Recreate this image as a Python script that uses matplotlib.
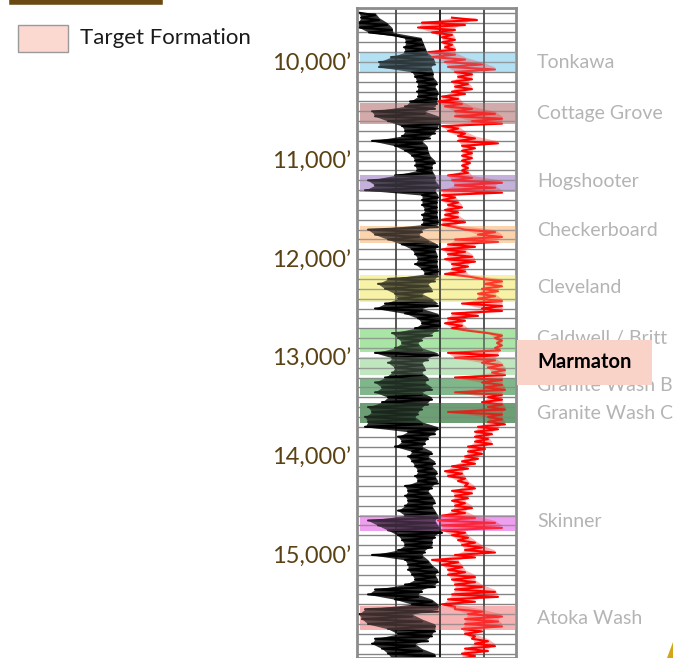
import numpy as np
import matplotlib.pyplot as plt
import matplotlib.transforms as mtransforms
from matplotlib.patches import Rectangle, Polygon
from matplotlib.lines import Line2D

plt.rcParams['font.family'] = ['Lato', 'DejaVu Sans']

# log samples every 50 ft; curve values in track units (0 = left edge, 159 = right edge)
depth = np.arange(9450, 16051, 50)
nan = np.nan

gr_lo = [nan, 2, 4, 1, 2, 12, 47, 49, 47, 48,
         34, 22, 22, 55, 58, 60, 61, 60, 61, 53,
         48, 15, 18, 31, 45, 48, 45, 15, 38, 48,
         55, 58, 58, 60, 38, 11, 18, 8, 65, 65,
         65, 68, 65, 66, 65, 11, 18, 31, 45, 55,
         58, 61, 58, 65, 68, 31, 21, 28, 38, 41,
         28, 18, 48, 61, 65, 58, 35, 41, 45, 38,
         18, 35, 31, 38, 35, 28, 18, 25, 18, 31,
         25, 11, 15, 8, 11, 8, 51, 41, 45, 38,
         55, 51, 55, 58, 61, 58, 61, 48, 51, 48,
         51, 48, 41, 48, 11, 21, 31, 41, 45, 48,
         41, 15, 48, 51, 51, 55, 58, 48, 18, 11,
         38, 55, 8, 2, 5, 11, 31, 41, 18, 15,
         25, 31, 35]
gr_hi = [nan, 18, 22, 30, 35, 36, 64, 66, 68, 70,
         76, 78, 74, 76, 76, 80, 78, 81, 80, 80,
         78, 68, 82, 82, 81, 78, 73, 65, 70, 71,
         73, 78, 75, 75, 78, 78, 82, 78, 81, 80,
         80, 80, 80, 81, 81, 65, 62, 71, 81, 78,
         80, 80, 80, 81, 81, 78, 71, 75, 65, 75,
         81, 65, 81, 82, 83, 81, 75, 65, 61, 65,
         81, 71, 65, 68, 65, 71, 68, 75, 65, 75,
         71, 65, 61, 58, 65, 81, 78, 71, 68, 65,
         75, 71, 78, 75, 80, 78, 81, 75, 71, 75,
         78, 75, 78, 81, 78, 81, 85, 78, 75, 75,
         68, 65, 71, 75, 81, 78, 81, 78, 65, 61,
         75, 81, 81, 55, 65, 78, 78, 75, 71, 58,
         65, 78, 75]
res_lo = [nan, nan, 95, 65, 61, 75, 85, 85, 88, 71,
          75, 88, 91, 98, 101, 95, 98, 95, 85, 81,
          88, 98, 98, 115, 85, 91, 101, 101, 105, 105,
          105, 105, 105, 105, 91, 95, 98, 85, 85, 85,
          91, 88, 88, 85, 85, 108, 121, 98, 91, 85,
          91, 88, 95, 95, 88, 125, 128, 125, 121, 121,
          105, 125, 95, 91, 88, 95, 131, 138, 140, 138,
          91, 98, 125, 131, 135, 98, 125, 128, 98, 131,
          125, 131, 91, 131, 131, 121, 118, 118, 118, 111,
          111, 108, 105, 95, 88, 91, 101, 108, 95, 98,
          95, 98, 95, 85, 81, 85, 85, 95, 101, 105,
          108, 98, 75, 85, 91, 91, 95, 98, 98, 95,
          91, 85, 98, 111, 108, 108, 105, 108, 115, 118,
          108, 105, 105]
res_hi = [nan, nan, 120, 108, 98, 95, 98, 95, 98, 98,
          108, 125, 138, 115, 115, 111, 115, 108, 101, 105,
          115, 138, 145, 145, 101, 108, 118, 141, 118, 115,
          115, 113, 111, 111, 115, 145, 138, 145, 98, 101,
          105, 101, 101, 108, 98, 138, 145, 141, 118, 108,
          115, 118, 111, 108, 111, 145, 145, 141, 138, 145,
          145, 145, 121, 108, 105, 111, 145, 145, 145, 143,
          141, 138, 145, 148, 148, 145, 145, 148, 145, 145,
          145, 148, 145, 145, 148, 141, 135, 131, 135, 128,
          125, 121, 118, 111, 105, 108, 111, 118, 115, 111,
          108, 115, 108, 118, 138, 145, 108, 111, 118, 125,
          138, 118, 101, 105, 108, 118, 118, 125, 138, 141,
          118, 98, 125, 145, 141, 145, 125, 118, 131, 138,
          131, 118, 118]

formations = ['Tonkawa', 'Cottage Grove', 'Hogshooter', 'Checkerboard', 'Cleveland',
              'Caldwell / Britt', 'Marmaton', 'Granite Wash B', 'Granite Wash C',
              'Skinner', 'Atoka Wash']
tops = [9900, 10420, 11150, 11660, 12160, 12710, 12990, 13205, 13455, 14595, 15515]
bases = [10100, 10630, 11320, 11840, 12430, 12940, 13175, 13380, 13660, 14760, 15760]
label_depths = [10000, 10527, 11207, 11704, 12282, 12809, 13043, 13286, 13560, 14665, 15649]
target = 'Marmaton'

depth_ticks = [10000, 11000, 12000, 13000, 14000, 15000]
depth_labels = ['10,000’', '11,000’', '12,000’', '13,000’', '14,000’', '15,000’']

band_colors = ['#b3e0f2', '#d2aaaa', '#c4b0da', '#fbd3ad', '#f7f2a6', '#a9e6a6',
               '#c0e6c0', '#80b78a', '#6c9f74', '#ef9ff0', '#f6b2b2']


def zigzag(lo, hi):
    x = np.column_stack([lo, hi]).ravel()
    y = np.column_stack([depth, depth + 25]).ravel()
    return x, y


fig = plt.figure(figsize=(6.73, 6.58), dpi=100)
ax = fig.add_axes([357 / 673, 0, 159 / 673, 650 / 658])
ax.set_xlim(0, 159)
ax.set_ylim(16045, 9452)

# formation bands under the curves
for top, base, c in zip(tops, bases, band_colors):
    ax.axhspan(top, base, xmin=0.02, color=c, lw=0, zorder=0.5)

# grid
ax.hlines(np.arange(9500, 16050, 100), 0, 159, color='#858585', lw=1, zorder=1)
ax.vlines([39, 127], 9452, 16045, color='#4a4a4a', lw=1.3, zorder=1)
ax.vlines([83], 9452, 16045, color='#202020', lw=1.4, zorder=1)

# GR (black) and resistivity (red)
ax.fill_betweenx(depth, gr_lo, gr_hi, color='black', alpha=0.8, lw=0, zorder=2)
x, y = zigzag(gr_lo, gr_hi)
ax.plot(x, y, color='black', lw=1.5, zorder=2)
ax.fill_betweenx(depth, res_lo, res_hi, color='red', alpha=0.3, lw=0, zorder=2)
x, y = zigzag(res_lo, res_hi)
ax.plot(x, y, color='red', lw=1.5, zorder=2)

# tint the curves inside the bands
for top, base, c in zip(tops, bases, band_colors):
    ax.axhspan(top, base, xmin=0.02, color=c, alpha=0.25, lw=0, zorder=3)

ax.set_xticks([])
ax.set_yticks(depth_ticks, depth_labels)
ax.tick_params(axis='y', length=0, pad=4, labelsize=17, labelcolor='#5a4214')
for s in ax.spines.values():
    s.set_color('#8c8c8c')
    s.set_linewidth(2)

trans = mtransforms.blended_transform_factory(ax.transAxes, ax.transData)
for name, d in zip(formations, label_depths):
    if name == target:
        continue
    ax.text(1.132, d, name, transform=trans, color='#b4b4b4', fontsize=14,
            va='center', ha='left', clip_on=False)

# target formation box
fig.add_artist(Rectangle((517 / 673, 1 - 385 / 658), 135 / 673, 45 / 658,
                         transform=fig.transFigure, facecolor='#f9d3c8',
                         edgecolor='none', zorder=5))
fig.text(537 / 673, 1 - 362 / 658, target, fontsize=14.5, fontweight='bold',
         color='black', va='center', ha='left', zorder=6)

# legend
fig.add_artist(Rectangle((18 / 673, 1 - 52 / 658), 50 / 673, 27 / 658,
                         transform=fig.transFigure, facecolor='#fbd9d0',
                         edgecolor='#9a9a9a', lw=1, zorder=5))
fig.text(80 / 673, 1 - 38 / 658, 'Target Formation', fontsize=16,
         color='#1a1a1a', va='center', ha='left', zorder=6)

# cut-off heading underline and corner mark
fig.add_artist(Line2D([12 / 673, 160 / 673], [1 - 2 / 658, 1 - 2 / 658],
                      transform=fig.transFigure, color='#6b4a12', lw=4))
fig.add_artist(Polygon([(667 / 673, 0), (673 / 673, 0), (673 / 673, 16 / 658)],
                       closed=True, transform=fig.transFigure,
                       facecolor='#d4a514', edgecolor='none'))

fig.savefig('out.png', dpi=100)
